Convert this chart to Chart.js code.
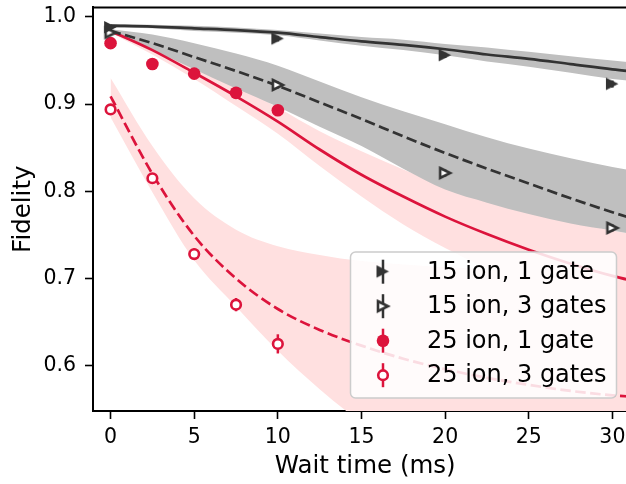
<!DOCTYPE html>
<html lang="en">
<head>
  <meta charset="UTF-8" />
  <title>Fidelity vs wait time</title>
  <script src="https://cdn.jsdelivr.net/npm/chart.js"></script>
  <style>
    html, body { margin: 0; padding: 0; background: #fff; overflow: hidden; }
    #wrap { width: 650px; height: 484px; }
  </style>
</head>
<body>
  <div id="wrap"><canvas id="fidelityChart" width="650" height="484"></canvas></div>
  <script>
    // fit curves (every 2.5 ms)
    const fitTimes = [0, 2.5, 5, 7.5, 10, 12.5, 15, 17.5, 20, 22.5, 25, 27.5, 30, 31.5];

    const fit15One      = [0.990, 0.989, 0.987, 0.985, 0.982, 0.977, 0.972, 0.968, 0.963, 0.957, 0.952, 0.946, 0.940, 0.937];
    const band15OneHigh = [0.992, 0.991, 0.990, 0.988, 0.985, 0.981, 0.977, 0.974, 0.969, 0.965, 0.960, 0.955, 0.950, 0.947];
    const band15OneLow  = [0.988, 0.987, 0.984, 0.982, 0.979, 0.973, 0.967, 0.962, 0.956, 0.949, 0.943, 0.936, 0.929, 0.926];

    const fit15Three      = [0.984, 0.970, 0.954, 0.938, 0.921, 0.902, 0.883, 0.863, 0.844, 0.826, 0.809, 0.792, 0.776, 0.767];
    const band15ThreeHigh = [0.986, 0.980, 0.970, 0.958, 0.944, 0.926, 0.908, 0.892, 0.877, 0.862, 0.849, 0.838, 0.828, 0.823];
    const band15ThreeLow  = [0.982, 0.962, 0.940, 0.918, 0.897, 0.874, 0.852, 0.826, 0.802, 0.787, 0.774, 0.763, 0.755, 0.750];

    const fit25One      = [0.984, 0.962, 0.936, 0.909, 0.880, 0.848, 0.819, 0.794, 0.771, 0.751, 0.733, 0.717, 0.703, 0.696];
    const band25OneHigh = [0.986, 0.967, 0.944, 0.921, 0.896, 0.869, 0.846, 0.825, 0.806, 0.790, 0.777, 0.765, 0.755, 0.750];
    const band25OneLow  = [0.982, 0.957, 0.929, 0.898, 0.866, 0.829, 0.794, 0.762, 0.735, 0.712, 0.693, 0.676, 0.660, 0.652];

    const fit25Three      = [0.909, 0.820, 0.749, 0.700, 0.665, 0.641, 0.623, 0.608, 0.596, 0.586, 0.578, 0.571, 0.566, 0.564];
    const band25ThreeHigh = [0.930, 0.852, 0.792, 0.756, 0.737, 0.727, 0.720, 0.716, 0.713, 0.711, 0.709, 0.707, 0.706, 0.705];
    const band25ThreeLow  = [0.885, 0.799, 0.721, 0.668, 0.617, 0.573, 0.535, 0.505, 0.480, 0.460, 0.440, 0.420, 0.400, 0.390];

    // measured points
    const times15 = [0, 10, 20, 30];
    const pts15One = [0.988, 0.975, 0.956, 0.923];
    const err15One = [0.003, 0.003, 0.003, 0.004];
    const pts15Three = [0.982, 0.922, 0.821, 0.758];
    const err15Three = [0.003, 0.004, 0.004, 0.004];

    const times25 = [0, 2.5, 5, 7.5, 10];
    const pts25One = [0.970, 0.946, 0.935, 0.913, 0.893];
    const err25One = [0.004, 0.004, 0.004, 0.005, 0.005];
    const pts25Three = [0.894, 0.815, 0.728, 0.670, 0.625];
    const err25Three = [0.005, 0.006, 0.0065, 0.0076, 0.011];

    const seriesNames = ["15 ion, 1 gate", "15 ion, 3 gates", "25 ion, 1 gate", "25 ion, 3 gates"];
    const xTicks = [0, 5, 10, 15, 20, 25, 30];
    const yTicks = [0.6, 0.7, 0.8, 0.9, 1.0];

    const DARK = "#333333";
    const RED = "#dc143c";
    const GRAY = "#bfbfbf";
    const PINK = "#ffe0e0";
    const FONT = "'DejaVu Sans', sans-serif";

    const toXY = (xs, ys) => xs.map((x, i) => ({ x: x, y: ys[i] }));

    // matplotlib-like ">" marker, drawn once into a small canvas
    function triangleMarker(size, fill, stroke, lw) {
      const pad = Math.ceil(lw) + 1;
      const c = document.createElement("canvas");
      c.width = c.height = Math.ceil(size + pad * 2);
      const g = c.getContext("2d");
      g.beginPath();
      g.moveTo(pad, pad);
      g.lineTo(pad + size, pad + size / 2);
      g.lineTo(pad, pad + size);
      g.closePath();
      g.fillStyle = fill;
      g.fill();
      if (lw > 0) {
        g.strokeStyle = stroke;
        g.lineWidth = lw;
        g.lineJoin = "miter";
        g.stroke();
      }
      return c;
    }

    function band(high, low, color, order) {
      return [
        { data: toXY(fitTimes, high), fill: "+1", backgroundColor: color, borderWidth: 0,
          pointRadius: 0, cubicInterpolationMode: "monotone", order: order },
        { data: toXY(fitTimes, low), fill: false, borderWidth: 0,
          pointRadius: 0, cubicInterpolationMode: "monotone", order: order }
      ];
    }

    function fitLine(ys, color, dashed, order) {
      return { data: toXY(fitTimes, ys), fill: false, borderColor: color, borderWidth: 2.7,
        borderDash: dashed ? [10.5, 4.5] : [], pointRadius: 0,
        cubicInterpolationMode: "monotone", order: order };
    }

    function points(xs, ys, errs, color, style, radius, fillColor, lw, order) {
      return { type: "scatter", data: toXY(xs, ys), errors: errs, borderColor: color,
        pointStyle: style, pointRadius: radius,
        pointBackgroundColor: fillColor, pointBorderColor: color,
        pointBorderWidth: lw, order: order };
    }

    const pointSets = [
      points(times15, pts15One, err15One, DARK, triangleMarker(12.5, DARK, DARK, 0), 7, DARK, 0, 10),
      points(times15, pts15Three, err15Three, DARK, triangleMarker(10, "#ffffff", DARK, 2.6), 7, "#ffffff", 0, 11),
      points(times25, pts25One, err25One, RED, "circle", 6.3, RED, 0, 12),
      points(times25, pts25Three, err25Three, RED, "circle", 4.8, "#ffffff", 2.6, 13)
    ];

    // error bars go right under their own markers
    const errorBars = {
      id: "errorBars",
      beforeDatasetDraw(chart, args) {
        const ds = chart.data.datasets[args.index];
        if (!ds.errors) return;
        const { ctx, scales: { x, y } } = chart;
        ctx.save();
        ctx.strokeStyle = ds.borderColor;
        ctx.lineWidth = 2.5;
        ds.data.forEach((p, i) => {
          const px = x.getPixelForValue(p.x);
          ctx.beginPath();
          ctx.moveTo(px, y.getPixelForValue(p.y - ds.errors[i]));
          ctx.lineTo(px, y.getPixelForValue(p.y + ds.errors[i]));
          ctx.stroke();
        });
        ctx.restore();
      }
    };

    const frameAndLegend = {
      id: "frameAndLegend",
      afterDraw(chart) {
        const { ctx, chartArea } = chart;
        ctx.save();
        // top spine
        ctx.strokeStyle = "#000";
        ctx.lineWidth = 2;
        ctx.beginPath();
        ctx.moveTo(chartArea.left - 1, chartArea.top);
        ctx.lineTo(chartArea.right, chartArea.top);
        ctx.stroke();

        // legend box
        const bx = 350.5, by = 252, bw = 266, bh = 146, r = 5;
        ctx.beginPath();
        ctx.moveTo(bx + r, by);
        ctx.arcTo(bx + bw, by, bx + bw, by + bh, r);
        ctx.arcTo(bx + bw, by + bh, bx, by + bh, r);
        ctx.arcTo(bx, by + bh, bx, by, r);
        ctx.arcTo(bx, by, bx + bw, by, r);
        ctx.closePath();
        ctx.fillStyle = "rgba(255,255,255,0.85)";
        ctx.fill();
        ctx.strokeStyle = "#cccccc";
        ctx.lineWidth = 1.5;
        ctx.stroke();

        seriesNames.forEach((name, i) => {
          const ds = pointSets[i];
          const mx = 383, my = 271.7 + i * 34.5;
          ctx.strokeStyle = ds.borderColor;
          ctx.lineWidth = 2.5;
          ctx.beginPath();
          ctx.moveTo(mx, my - 12);
          ctx.lineTo(mx, my + 12);
          ctx.stroke();
          ctx.fillStyle = ds.pointBackgroundColor;
          ctx.strokeStyle = ds.pointBorderColor;
          ctx.lineWidth = ds.pointBorderWidth;
          Chart.helpers.drawPoint(ctx, {
            pointStyle: ds.pointStyle, rotation: 0,
            radius: ds.pointRadius, borderWidth: ds.pointBorderWidth
          }, mx, my);
          ctx.fillStyle = "#000";
          ctx.font = "24px " + FONT;
          ctx.textBaseline = "middle";
          ctx.textAlign = "left";
          ctx.fillText(name, 427, my + 1);
        });
        ctx.restore();
      }
    };

    const datasets = [
      ...band(band25ThreeHigh, band25ThreeLow, PINK, 100),
      ...band(band25OneHigh, band25OneLow, PINK, 99),
      ...band(band15ThreeHigh, band15ThreeLow, GRAY, 90),
      ...band(band15OneHigh, band15OneLow, GRAY, 89),
      fitLine(fit25Three, RED, true, 50),
      fitLine(fit25One, RED, false, 49),
      fitLine(fit15Three, DARK, true, 48),
      fitLine(fit15One, DARK, false, 47),
      ...pointSets
    ];

    Chart.defaults.font.family = FONT;
    Chart.defaults.color = "#000";

    new Chart(document.getElementById("fidelityChart"), {
      type: "line",
      data: { datasets: datasets },
      options: {
        responsive: false,
        animation: false,
        events: [],
        layout: { padding: { left: 0, top: 6, right: 12.5, bottom: 0 } },
        plugins: { legend: { display: false }, tooltip: { enabled: false } },
        scales: {
          x: {
            type: "linear", min: -1.05, max: 31.5,
            afterBuildTicks: s => { s.ticks = xTicks.map(v => ({ value: v })); },
            afterFit: s => { s.height = 73; s.paddingLeft = 0; s.paddingRight = 0; },
            grid: { drawOnChartArea: false, drawTicks: true, tickLength: 8, tickWidth: 1.6, tickColor: "#000" },
            border: { display: true, color: "#000", width: 2 },
            ticks: { font: { size: 20.5 }, color: "#000", padding: 6, maxRotation: 0, autoSkip: false,
              callback: v => String(v) },
            title: { display: true, text: "Wait time (ms)", font: { size: 24.5 }, color: "#000",
              padding: { top: 0, bottom: 3 } }
          },
          y: {
            type: "linear", min: 0.548, max: 1.011,
            afterBuildTicks: s => { s.ticks = yTicks.map(v => ({ value: v })); },
            afterFit: s => { s.width = 93; s.paddingTop = 0; s.paddingBottom = 0; },
            grid: { drawOnChartArea: false, drawTicks: true, tickLength: 8, tickWidth: 1.6, tickColor: "#000" },
            border: { display: true, color: "#000", width: 2 },
            ticks: { font: { size: 20.5 }, color: "#000", padding: 9, callback: v => v.toFixed(1) },
            title: { display: true, text: "Fidelity", font: { size: 24.5 }, color: "#000",
              padding: { top: 9, bottom: 0 } }
          }
        }
      },
      plugins: [errorBars, frameAndLegend]
    });
  </script>
</body>
</html>
